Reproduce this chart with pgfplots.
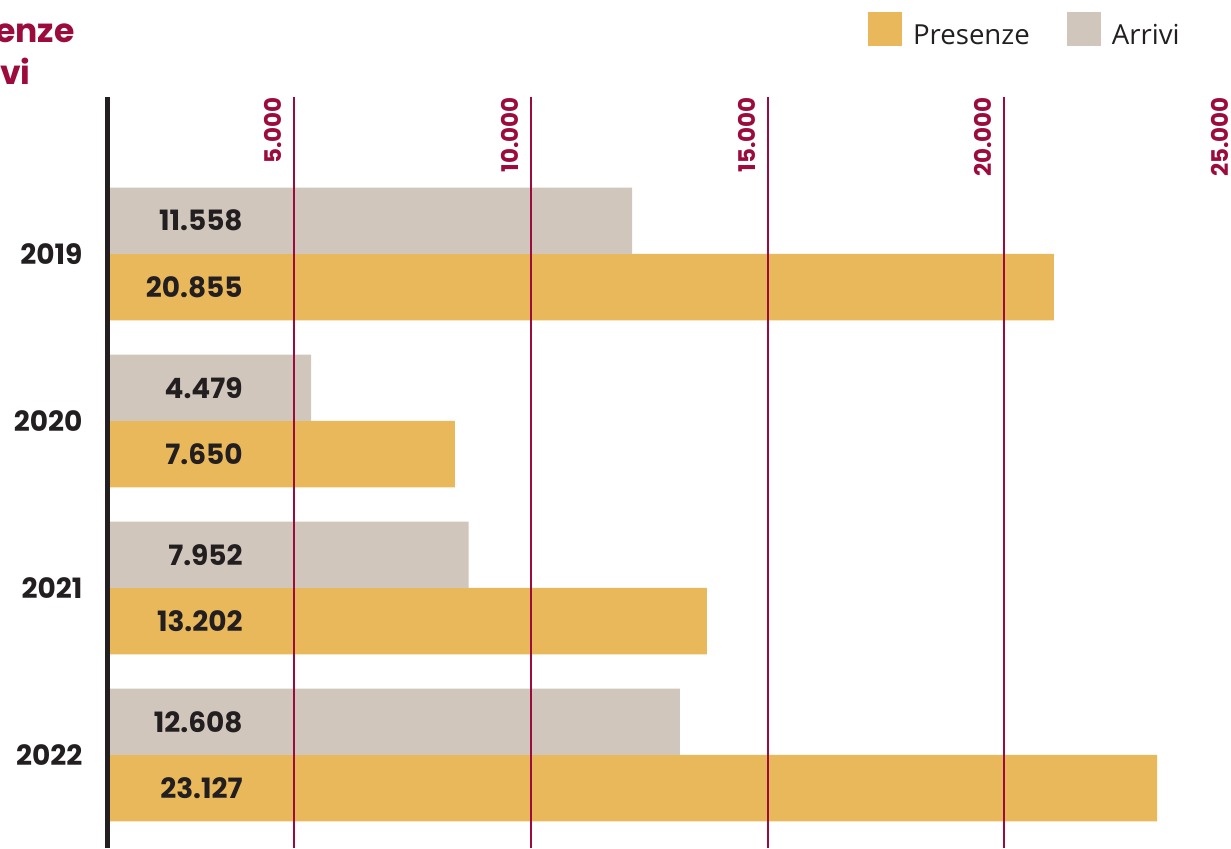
\documentclass[border=0pt]{standalone}
\usepackage{fontspec}
\usepackage{pgfplots}
\pgfplotsset{compat=1.18}
\setmainfont{Poppins}
\newfontfamily\pop{Poppins}
\newfontfamily\osans{Open Sans}
\definecolor{ygold}{HTML}{E9B85B}
\definecolor{ggray}{HTML}{D0C6BB}
\definecolor{dred}{HTML}{9B0B3C}
\definecolor{tdark}{HTML}{231F20}
\begin{document}
\begin{tikzpicture}
\useasboundingbox (0,0) rectangle (615.5pt,424pt);
\node[anchor=base east, inner sep=0pt, text=dred, font=\pop\bfseries\fontsize{16.5}{20}\selectfont] at (37.5pt,402.5pt) {Presenze};
\node[anchor=base east, inner sep=0pt, text=dred, font=\pop\bfseries\fontsize{16.5}{20}\selectfont] at (15.5pt,381.5pt) {Arrivi};
\begin{axis}[
  at={(53.9pt,0pt)}, anchor=south west,
  scale only axis, width=576.1pt, height=375.5pt,
  xmin=0, xmax=25396, ymin=-0.557, ymax=3.94,
  axis x line=top, axis y line=left,
  x axis line style={draw=none},
  y axis line style={-, line width=2.5pt, color=tdark},
  axis on top,
  scaled x ticks=false,
  xtick={4104,9328,14551,19753,24977},
  xticklabels={5.000,10.000,15.000,20.000,25.000},
  xmajorgrids, major x grid style={color=dred, line width=0.75pt},
  major tick length=0pt,
  xticklabel style={rotate=90, anchor=south east, inner xsep=0pt, inner ysep=6pt, text=dred, font=\pop\bfseries\fontsize{11.5}{12}\selectfont},
  ytick={0,1,2,3}, yticklabels={2022,2021,2020,2019},
  yticklabel style={anchor=east, inner sep=0pt, xshift=-12.5pt, text=tdark, font=\pop\bfseries\fontsize{14}{16}\selectfont},
  legend columns=2,
  legend style={at={(rel axis cs:0.6598,1.1132)}, anchor=north west, draw=none, fill=none, inner sep=0pt, outer sep=0pt, font=\osans\fontsize{13.8}{16}\selectfont, text=tdark, nodes={inner sep=0pt}, /tikz/every odd column/.append style={column sep=5.5pt}, /tikz/every even column/.append style={column sep=18.5pt}},
  legend image code/.code={\fill[#1] (0pt,-5pt) rectangle (17pt,12pt);},
]
\addplot[xbar, bar width=0.398, bar shift=-0.199, fill=ygold, draw=none] coordinates {(20855,3) (7650,2) (13202,1) (23127,0)};
\addplot[xbar, bar width=0.398, bar shift=0.199, fill=ggray, draw=none] coordinates {(11558,3) (4479,2) (7952,1) (12608,0)};
\addplot[draw=none, no markers, nodes near coords, point meta=explicit symbolic,
  every node near coord/.append style={anchor=east, inner sep=0pt, text=tdark, font=\pop\bfseries\fontsize{14}{16}\selectfont}]
  table[meta=label] {
x y label
2980 3.199 11.558
2980 2.801 20.855
2980 2.199 4.479
2980 1.801 7.650
2980 1.199 7.952
2980 0.801 13.202
2980 0.199 12.608
2980 -0.199 23.127
};
\legend{Presenze,Arrivi}
\end{axis}
\end{tikzpicture}
\end{document}
